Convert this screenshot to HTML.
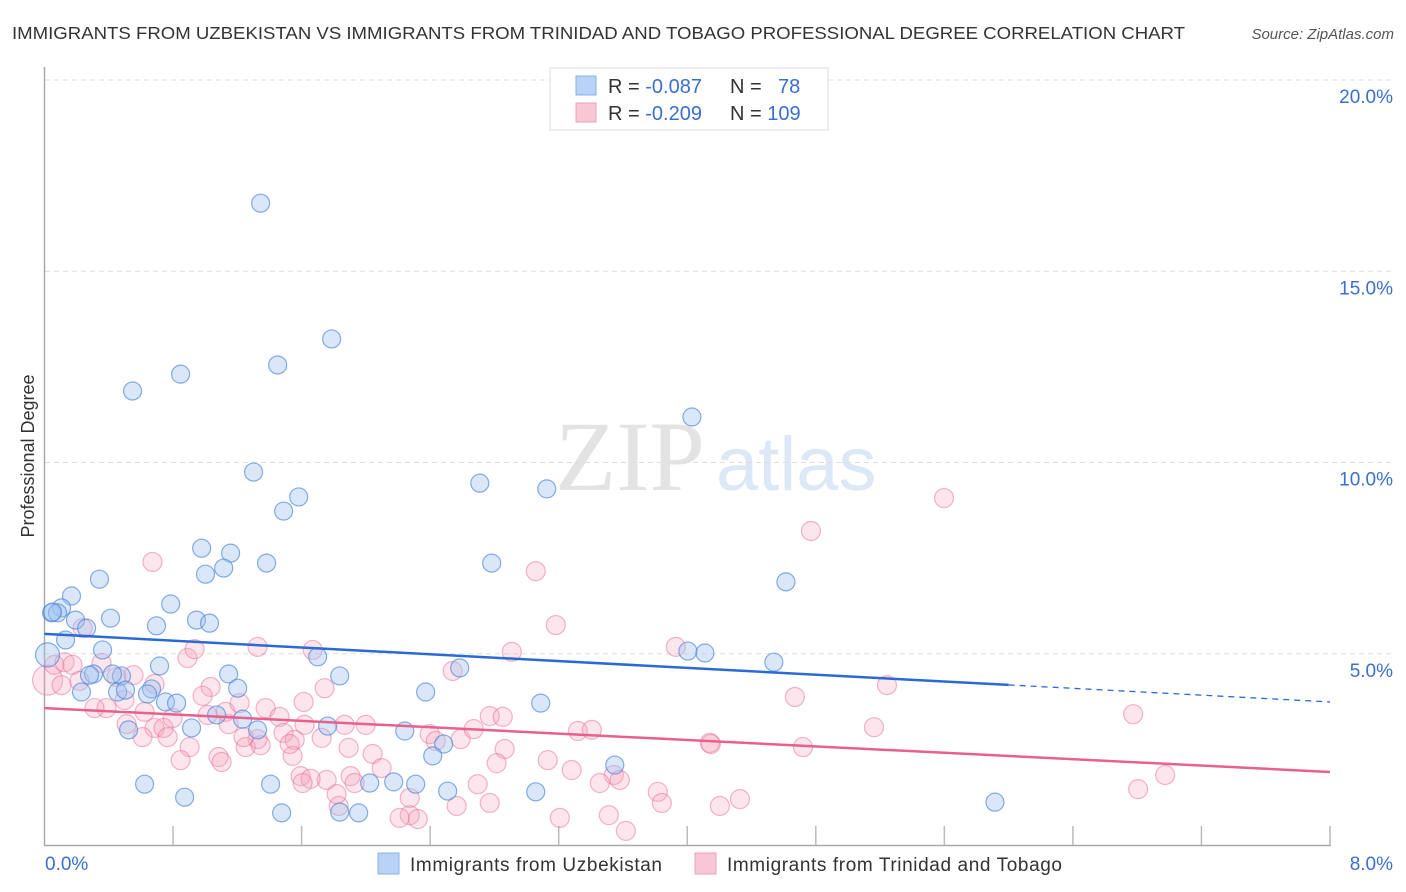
<!DOCTYPE html>
<html><head><meta charset="utf-8"><style>
body{margin:0;background:#fff;font-family:"Liberation Sans",sans-serif}
#c{position:absolute;left:0;top:0}
</style></head><body>
<svg id="c" width="1406" height="892" xmlns="http://www.w3.org/2000/svg">
<text x="12" y="39" font-size="17.5" fill="#333" textLength="1173" lengthAdjust="spacingAndGlyphs">IMMIGRANTS FROM UZBEKISTAN VS IMMIGRANTS FROM TRINIDAD AND TOBAGO PROFESSIONAL DEGREE CORRELATION CHART</text>
<text x="1394" y="39" font-size="15" fill="#555" font-style="italic" text-anchor="end">Source: ZipAtlas.com</text>
<g>
<text x="555" y="490" font-family="Liberation Serif,serif" font-size="100" fill="#e3e3e3">ZIP</text>
<text x="716" y="490" font-size="76" fill="#dce8f6">atlas</text>
</g>
<g id="grid"></g>
<g id="axes"></g>
<g id="pts"></g>
<g id="trends"></g>
<text transform="translate(34,456) rotate(-90)" font-size="18" fill="#333" text-anchor="middle">Professional Degree</text>
<g>
<rect x="550" y="68" width="278" height="62" fill="#fff" stroke="#ddd"/>
<rect x="576" y="76" width="20" height="19" fill="#b8d3f5" stroke="#8ab2e6"/>
<rect x="576" y="103" width="20" height="19" fill="#f9c6d5" stroke="#eea3bb"/>
<text x="608" y="93" font-size="20" fill="#333">R = <tspan fill="#3a6fd0">-0.087</tspan></text>
<text x="730" y="93" font-size="20" fill="#333">N = <tspan fill="#3a6fd0" x="778">78</tspan></text>
<text x="608" y="120" font-size="20" fill="#333">R = <tspan fill="#3a6fd0">-0.209</tspan></text>
<text x="730" y="120" font-size="20" fill="#333">N = <tspan fill="#3a6fd0">109</tspan></text>
</g>
<g>
<rect x="378" y="853" width="21" height="21" fill="#b8d3f5" stroke="#8ab2e6"/>
<text x="410" y="871" font-size="19" fill="#333" textLength="252">Immigrants from Uzbekistan</text>
<rect x="695" y="853" width="21" height="21" fill="#f9c6d5" stroke="#eea3bb"/>
<text x="727" y="871" font-size="19" fill="#333" textLength="335">Immigrants from Trinidad and Tobago</text>
</g>
</svg>
<script>
const xTicks=[0,0.8,1.6,2.4,3.2,4,4.8,5.6,6.4,7.2,8];
const yTicks=[5,10,15,20];
const yTickLabels=["5.0%","10.0%","15.0%","20.0%"];
const xEndLabels=["0.0%","8.0%"];
const blueX=[1.345,1.787,1.451,0.847,0.548,4.029,1.301,2.709,3.126,1.582,1.488,0.978,1.158,1.115,1.002,1.382,2.783,0.342,4.614,0.168,0.106,0.044,0.081,0.785,0.411,0.193,0.262,0.946,1.027,0.697,0.131,4.004,4.110,0.361,1.700,4.539,0.019,0.716,2.584,1.146,1.837,0.305,0.479,0.455,0.230,1.202,2.372,0.666,0.641,0.753,0.822,3.088,1.071,1.233,1.762,2.242,0.915,0.523,1.326,2.484,2.416,3.549,0.623,1.407,2.024,2.173,2.310,2.509,3.057,0.872,1.476,1.837,1.955,5.915,0.423,0.504,0.280,0.05];
const blueY=[16.78,13.23,12.55,12.31,11.87,11.19,9.75,9.46,9.31,9.10,8.73,7.76,7.63,7.24,7.08,7.37,7.37,6.95,6.88,6.51,6.20,6.07,6.07,6.30,5.93,5.88,5.67,5.88,5.80,5.73,5.36,5.07,5.02,5.10,4.92,4.78,4.97,4.68,4.63,4.47,4.42,4.47,4.42,4.00,4.00,4.10,4.00,4.08,3.95,3.74,3.71,3.71,3.40,3.29,3.11,2.98,3.06,3.01,3.01,2.64,2.33,2.09,1.59,1.59,1.62,1.65,1.59,1.41,1.39,1.25,0.84,0.86,0.84,1.12,4.47,4.05,4.44,6.09];
const pinkX=[0.672,4.770,5.598,3.057,3.182,3.929,2.908,1.326,1.669,5.243,4.670,6.775,5.162,4.147,4.720,6.974,6.806,0.019,0.062,0.125,0.174,0.106,0.218,0.355,0.237,0.890,0.934,1.034,0.984,0.685,0.448,0.554,0.498,0.386,0.311,0.623,0.797,1.015,1.127,1.146,1.214,1.376,1.463,1.613,1.743,1.326,1.252,1.239,1.488,1.557,0.511,0.685,0.741,0.766,0.610,0.903,0.847,1.083,1.102,1.345,1.544,1.526,1.619,1.725,1.868,1.999,1.893,2.042,1.594,1.756,1.905,2.098,1.656,1.930,1.606,1.831,2.273,1.818,2.273,2.323,2.210,2.565,2.397,2.435,2.590,2.771,2.852,2.671,2.864,2.814,2.540,3.132,3.319,3.406,3.281,2.696,2.771,3.207,3.512,3.618,3.543,3.580,3.456,3.817,3.842,4.203,4.328,4.141];
const pinkY=[7.40,8.21,9.07,7.16,5.75,5.18,5.05,5.18,5.10,4.18,3.87,3.42,3.08,2.64,2.56,1.83,1.46,4.31,4.71,4.78,4.71,4.18,4.29,4.76,5.67,4.89,5.12,4.13,3.90,4.21,4.39,4.44,3.79,3.58,3.58,3.48,3.32,3.40,3.48,3.16,3.71,3.58,3.35,3.74,4.10,2.77,2.56,2.82,2.93,2.75,3.16,3.06,3.06,2.82,2.82,2.56,2.22,2.30,2.17,2.61,2.33,2.64,3.14,2.80,3.14,3.14,2.54,2.38,1.80,1.70,1.80,2.01,1.73,1.62,1.62,1.02,1.23,1.33,0.78,0.68,0.71,1.02,2.90,2.72,2.77,3.37,3.35,3.03,2.51,2.14,4.55,2.22,2.98,3.01,1.96,1.59,1.10,0.71,0.78,0.37,1.83,1.70,1.62,1.39,1.10,1.02,1.20,2.67];
const blueTrend=[5.52,3.74];
const pinkTrend=[3.58,1.91];
const blueSolidEnd=6.0;

const NS="http://www.w3.org/2000/svg";
const X=v=>44.5+v/8*1285.5;
const Y=v=>845-v*38.25;
function mk(tag,attrs,parent){const e=document.createElementNS(NS,tag);for(const k in attrs)e.setAttribute(k,attrs[k]);parent.appendChild(e);return e;}
const grid=document.getElementById('grid'),axes=document.getElementById('axes');
yTicks.forEach((t,i)=>{
 const l=mk('line',{x1:45,x2:1392,y1:Y(t),y2:Y(t),stroke:'#ddd','stroke-dasharray':'5,4'},grid);
 
 
 const tx=mk('text',{x:1393,y:Y(t)+23,'font-size':19,fill:'#3a6fd0','text-anchor':'end'},axes);
 tx.textContent=yTickLabels[i];
 
 
});
const ax=mk('path',{d:'M44.5,67V845.5H1331',stroke:'#aaa',fill:'none','stroke-width':1.5},axes);


xTicks.forEach(t=>{if(t===0)return;
 const l=mk('line',{x1:X(t),x2:X(t),y1:826,y2:845,stroke:'#bbb','stroke-width':1.5},axes);
 
 
});
const xl0=mk('text',{x:45,y:870,'font-size':19,fill:'#3a6fd0'},axes);xl0.textContent=xEndLabels[0];


const xl1=mk('text',{x:1393,y:870,'font-size':19,fill:'#3a6fd0','text-anchor':'end'},axes);xl1.textContent=xEndLabels[1];



const pts=document.getElementById('pts');
pinkX.forEach((x,i)=>{
 const c=mk('circle',{cx:X(x),cy:Y(pinkY[i]),r:x<0.03?15:9.5,fill:'rgba(245,160,185,0.28)',stroke:'rgba(232,110,150,0.5)','stroke-width':1.2},pts);
 
 
});
blueX.forEach((x,i)=>{
 const c=mk('circle',{cx:X(x),cy:Y(blueY[i]),r:x<0.03?12:9,fill:'rgba(160,195,240,0.4)',stroke:'rgba(70,130,215,0.65)','stroke-width':1.2},pts);
 
 
});
const tr=document.getElementById('trends');
const by=x=>blueTrend[0]+(blueTrend[1]-blueTrend[0])*x/8;
const t1=mk('line',{x1:X(0),y1:Y(by(0)),x2:X(blueSolidEnd),y2:Y(by(blueSolidEnd)),stroke:'#2a6ad6','stroke-width':2.5},tr);


const t2=mk('line',{x1:X(blueSolidEnd),y1:Y(by(blueSolidEnd)),x2:X(8),y2:Y(by(8)),stroke:'#2a6ad6','stroke-width':1.3,'stroke-dasharray':'6,5'},tr);


const t3=mk('line',{x1:X(0),y1:Y(pinkTrend[0]),x2:X(8),y2:Y(pinkTrend[1]),stroke:'#e8608c','stroke-width':2.5},tr);


</script>
</body></html>
